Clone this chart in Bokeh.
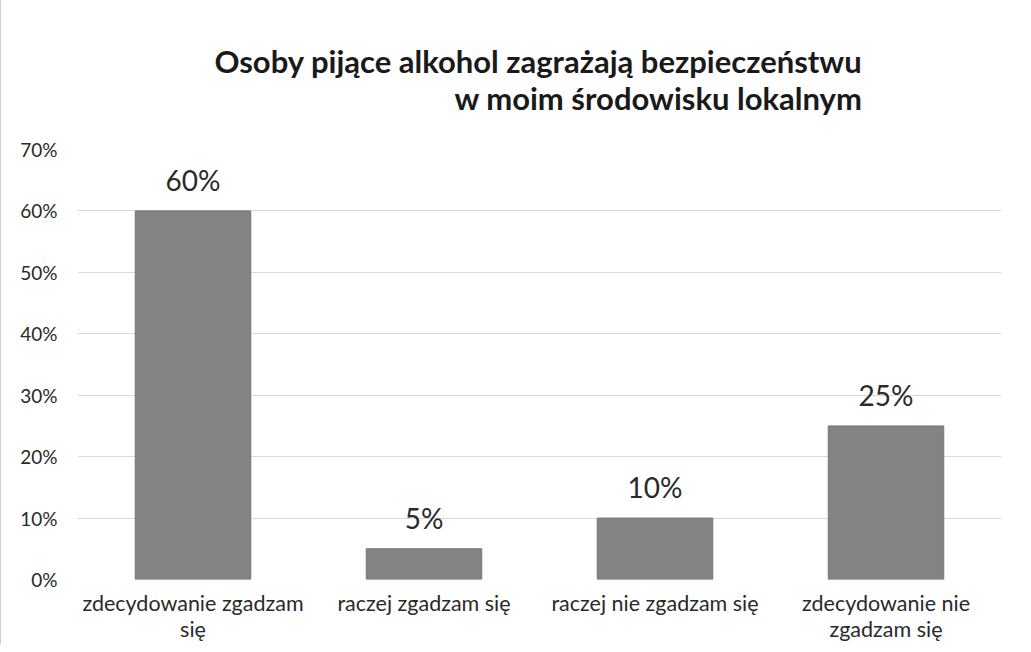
from bokeh.plotting import figure
from bokeh.models import ColumnDataSource, LabelSet, Title, PrintfTickFormatter, FixedTicker, Range1d
from bokeh.core.properties import value
from bokeh.embed import file_html
from bokeh.resources import INLINE

categories = ["zdecydowanie zgadzam\nsię", "raczej zgadzam się", "raczej nie zgadzam się", "zdecydowanie nie\nzgadzam się"]
values = [60, 5, 10, 25]
value_labels = ["60%", "5%", "10%", "25%"]
y_ticks = [0, 10, 20, 30, 40, 50, 60, 70]
title_line1 = "Osoby pijące alkohol zagrażają bezpieczeństwu"
title_line2 = "w moim środowisku lokalnym"

FONT = "Lato"
src = ColumnDataSource(dict(cat=categories, val=values, lab=value_labels))

p = figure(x_range=categories, y_range=Range1d(0, 70), width=1023, height=644,
           output_backend="svg", toolbar_location=None,
           min_border_left=76, min_border_right=23, min_border_bottom=60, min_border_top=149,
           styles={"border-left": "1px solid #cfcfcf"})
p.outline_line_color = None
p.background_fill_color = "white"
p.border_fill_color = "white"

p.vbar(x="cat", top="val", width=0.5, source=src, fill_color="#838383",
       line_color="#767676", line_width=1)

labels = LabelSet(x="cat", y="val", text="lab", source=src, text_align="center",
                  text_baseline="bottom", y_offset=14, text_font=value(FONT),
                  text_font_size="28px", text_color="#2a2a2a")
p.add_layout(labels)

title_style = dict(align="right", offset=139, text_font=FONT, text_font_size="31px",
                   text_font_style="bold", text_color="#1a1a1a")
# spacer between the title block and the plot frame
p.add_layout(Title(text=" ", standoff=-5, **title_style), "above")
p.add_layout(Title(text=title_line2, standoff=-5, **title_style), "above")
p.add_layout(Title(text=title_line1, standoff=0, **title_style), "above")

p.yaxis.ticker = FixedTicker(ticks=y_ticks)
p.yaxis.formatter = PrintfTickFormatter(format="%d%%")
p.yaxis.axis_line_color = None
p.yaxis.major_tick_line_color = None
p.yaxis.major_tick_out = 0
p.yaxis.major_tick_in = 0
p.yaxis.minor_tick_line_color = None
p.yaxis.major_label_standoff = 20
p.yaxis.major_label_text_font = FONT
p.yaxis.major_label_text_font_size = "19px"
p.yaxis.major_label_text_color = "#2a2a2a"

p.xaxis.axis_line_color = None
p.xaxis.major_tick_line_color = None
p.xaxis.major_tick_out = 0
p.xaxis.major_tick_in = 0
p.xaxis.minor_tick_line_color = None
p.xaxis.major_label_standoff = 10
p.xaxis.major_label_text_font = FONT
p.xaxis.major_label_text_font_size = "21.5px"
p.xaxis.major_label_text_line_height = 1.0
p.xaxis.major_label_text_color = "#2a2a2a"

p.xgrid.grid_line_color = None
p.ygrid.grid_line_color = "#d9d9d9"
p.ygrid.grid_line_width = 1

open("out.html", "w").write(file_html(p, INLINE))
